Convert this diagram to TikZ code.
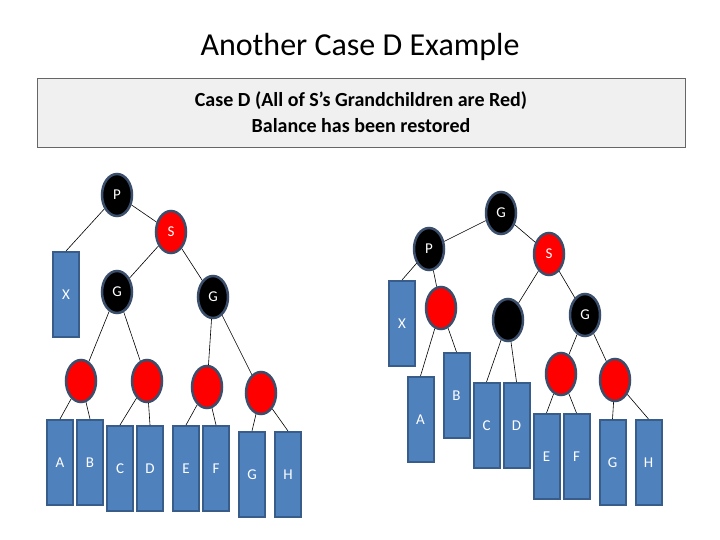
\documentclass[tikz,border=0pt]{standalone}
\usepackage{fontspec}
\setmainfont{Carlito}
\usetikzlibrary{shapes.geometric}
\definecolor{leaf}{HTML}{4F81BD}
\definecolor{leafb}{HTML}{385D8A}
\definecolor{ringc}{HTML}{3B4E6B}
\begin{document}
\begin{tikzpicture}[x=1pt,y=-1pt,
  bn/.style={ellipse,fill=black,draw=ringc,line width=2.5pt,minimum width=30pt,minimum height=42pt,inner sep=0pt,text=white,font=\fontsize{15}{15}\selectfont},
  rn/.style={bn,fill=red},
  lf/.style={rectangle,fill=leaf,draw=leafb,line width=2pt,minimum width=26pt,minimum height=85pt,inner sep=0pt,text=white,font=\fontsize{15}{15}\selectfont},
  ed/.style={draw=black,line width=0.6pt}]
\useasboundingbox (0,0) rectangle (720,540);
\node[font=\fontsize{32}{32}\selectfont] (title) at (360,47) {Another Case D Example};
\node[draw=gray!80!black,fill=black!6,line width=0.8pt,minimum width=648pt,minimum height=69pt,align=center,font=\bfseries\fontsize{20}{26}\selectfont] (box) at (361,112.5) {Case D (All of S's Grandchildren are Red)\\Balance has been restored};
% left tree
\node[bn] (lP) at (117,195) {P};
\node[rn] (lS) at (171,232) {S};
\node[lf] (lX) at (66,294.5) {X};
\node[bn] (lG1) at (117,292) {G};
\node[bn] (lG2) at (213,297) {G};
\node[rn] (r1) at (81,381) {};
\node[rn] (r2) at (147,381) {};
\node[rn] (r3) at (207,387) {};
\node[rn] (r4) at (261,393) {};
\node[lf] (lA) at (60,462.5) {A};
\node[lf] (lB) at (90,462.5) {B};
\node[lf] (lC) at (120,468.5) {C};
\node[lf] (lD) at (150,468.5) {D};
\node[lf] (lE) at (186,468.5) {E};
\node[lf] (lF) at (216,468.5) {F};
\node[lf] (lGG) at (252,474.5) {G};
\node[lf] (lH) at (288,474.5) {H};
\draw[ed] (lP)--(lS) (lP)--(lX.north) (lS)--(lG1) (lS)--(lG2)
 (lG1)--(r1) (lG1)--(r2) (lG2)--(r3) (lG2)--(r4)
 (r1)--(lA.north) (r1)--(lB.north) (r2)--(lC.north) (r2)--(lD.north)
 (r3)--(lE.north) (r3)--(lF.north) (r4)--(lGG.north) (r4)--(lH.north);
% right tree
\node[bn] (G) at (501,213) {G};
\node[bn] (P) at (429,249) {P};
\node[rn] (S) at (549,254) {S};
\node[lf] (X) at (402,323.5) {X};
\node[rn] (rr) at (441,308) {};
\node[lf] (A) at (420.5,419.5) {A};
\node[lf] (B) at (456.5,395.5) {B};
\node[bn] (bk) at (508,320) {};
\node[bn] (G2) at (585,315) {G};
\node[lf] (C) at (486.5,425.5) {C};
\node[lf] (D) at (516.5,425.5) {D};
\node[rn] (re) at (561,374) {};
\node[rn] (rf) at (615,380) {};
\node[lf] (E) at (546.5,456.5) {E};
\node[lf] (F) at (576.5,456.5) {F};
\node[lf] (GG) at (612.5,462.5) {G};
\node[lf] (H) at (648.5,462.5) {H};
\draw[ed] (G)--(P) (G)--(S) (P)--(X.north) (P)--(rr) (rr)--(A.north) (rr)--(B.north)
 (S)--(bk) (S)--(G2) (bk)--(C.north) (bk)--(D.north) (G2)--(re) (G2)--(rf)
 (re)--(E.north) (re)--(F.north) (rf)--(GG.north) (rf)--(H.north);
\end{tikzpicture}
\end{document}
